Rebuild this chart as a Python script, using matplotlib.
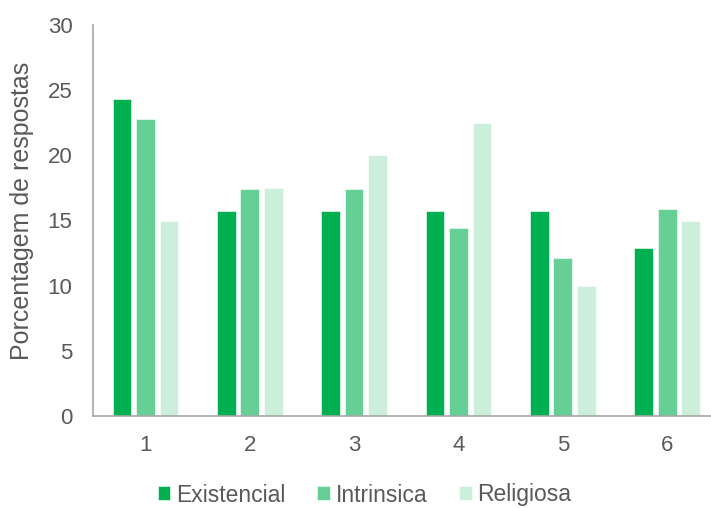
import matplotlib
matplotlib.use("Agg")
import matplotlib.pyplot as plt
import numpy as np

plt.rcParams['font.family'] = ['Liberation Sans', 'DejaVu Sans']

categories = ['1', '2', '3', '4', '5', '6']
existencial = [24.3, 15.7, 15.7, 15.7, 15.7, 12.9]
intrinsica = [22.8, 17.4, 17.4, 14.4, 12.1, 15.9]
religiosa = [15.0, 17.5, 20.0, 22.5, 10.0, 15.0]

series = [
    ('Existencial', existencial, '#00B050'),
    ('Intrinsica', intrinsica, '#66CF96'),
    ('Religiosa', religiosa, '#CCEFDC'),
]

text_color = '#595959'
axis_color = '#A6A6A6'

fig = plt.figure(figsize=(7.11, 5.08), dpi=100)
ax = fig.add_axes([93.3 / 711, 1 - 416 / 508, 1 - 93.3 / 711, (416 - 25) / 508])

x = np.arange(len(categories))
width = 0.179
offset = 0.224
for i, (name, vals, color) in enumerate(series):
    ax.bar(x + (i - 1) * offset, vals, width, color=color, label=name,
           edgecolor='white', linewidth=0.4)

ax.set_xlim(-0.5, 5.42)
ax.set_ylim(0, 30)
ax.set_yticks([0, 5, 10, 15, 20, 25, 30])
ax.set_xticks(x)
ax.set_xticklabels(categories)

for side in ['top', 'right']:
    ax.spines[side].set_visible(False)
for side in ['left', 'bottom']:
    ax.spines[side].set_color(axis_color)
    ax.spines[side].set_linewidth(1.2)

ax.tick_params(axis='both', length=0, labelsize=16, colors=text_color)
ax.tick_params(axis='y', pad=15)
ax.tick_params(axis='x', pad=14)

ax.set_ylabel('Porcentagem de respostas', fontsize=18, color=text_color)
ax.yaxis.set_label_coords(-(93.3 - 22) / (711 - 93.3), 0.524)
ax.yaxis.label.set_verticalalignment('center')

leg = fig.legend(loc='center', bbox_to_anchor=(364.5 / 711, 1 - 495 / 508), ncol=3,
                 frameon=False, fontsize=16.5, handlelength=0.56, handleheight=0.56,
                 handletextpad=0.25, columnspacing=1.38, labelcolor=text_color,
                 borderpad=0.2)

fig.savefig('out.png', dpi=100)
